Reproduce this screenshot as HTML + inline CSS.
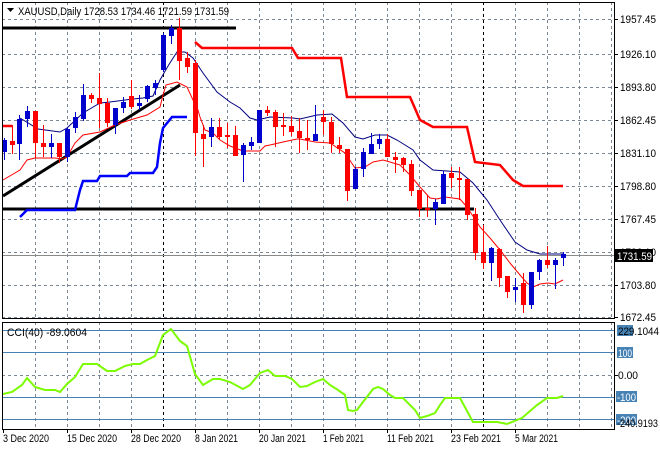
<!DOCTYPE html>
<html><head><meta charset="utf-8"><style>
html,body{margin:0;padding:0;background:#fff;}
svg{display:block;font-family:"Liberation Sans",sans-serif;font-size:11px;}
</style></head><body>
<svg width="660" height="450" viewBox="0 0 660 450" xmlns="http://www.w3.org/2000/svg">
<defs>
<clipPath id="cm"><rect x="2" y="2" width="612" height="317"/></clipPath>
<clipPath id="cc"><rect x="2" y="322" width="612" height="107"/></clipPath>
</defs>
<rect width="660" height="450" fill="#fff"/>
<g stroke="#7b8794" stroke-width="1" stroke-dasharray="3,3" fill="none">
<path d="M2 19.5H614M2 54.5H614M2 87.5H614M2 120.5H614M2 153.5H614M2 186.5H614M2 219.5H614M2 252.5H614M2 285.5H614M2 317.5H614"/>
<path d="M35.5 2V319M67.5 2V319M99.5 2V319M131.5 2V319M195.5 2V319M227.5 2V319M259.5 2V319M291.5 2V319M323.5 2V319M355.5 2V319M387.5 2V319M419.5 2V319M451.5 2V319M515.5 2V319M547.5 2V319M579.5 2V319M611.5 2V319"/>
<path d="M35.5 322V429M67.5 322V429M99.5 322V429M131.5 322V429M195.5 322V429M227.5 322V429M259.5 322V429M291.5 322V429M323.5 322V429M355.5 322V429M387.5 322V429M419.5 322V429M451.5 322V429M515.5 322V429M547.5 322V429M579.5 322V429M611.5 322V429M2 375.5H614"/>
</g>
<g stroke="#000" stroke-dasharray="3,3"><path d="M163.5 2V319M483.5 2V319M163.5 322V429M483.5 322V429"/></g>
<path d="M2 255.5H614" stroke="#8a8a8a" stroke-width="1"/>
<g clip-path="url(#cm)">
<path d="M3 28H236" stroke="#000" stroke-width="3"/>
<path d="M3 209H474" stroke="#000" stroke-width="3"/>
<path d="M3 196L180 85" stroke="#000" stroke-width="3"/>
<path d="M3 126H12M195 42L202 48H292L298 58H341L347 97H410L420 120L433 127H467L475 162L500 165L513 180L523 186H563" stroke="#ff0000" stroke-width="2.5" fill="none"/>
<path d="M20 217L27 210H75L80 190L83 181H97L100 176H127L130 173H153L157 167L160 143L163 128L172 117H187" stroke="#0000ff" stroke-width="2.5" fill="none"/>
<path d="M20 118L38 129L60 132L67 128L83 113L100 103L110 102L133 99L143 98L153 96L160 80L168 66L177 52L185 52L193 58L203 73L217 92L230 102L240 108L250 118L257 120L270 117L293 118L300 119L317 115L332 114L343 123L355 137L363 139L375 135L387 135L397 140L405 145L413 150L420 160L433 170L447 171L460 172L473 183L487 200L500 220L515 242L527 250L540 254L563 254" stroke="#000080" stroke-width="1" fill="none"/>
<path d="M3 180L20 170L27 160L35 158L55 158L62 159L67 157L75 143L83 135L100 132L115 125L130 120L147 115L160 107L163 95L166 85L177 82L187 87L193 100L197 107L200 117L205 130L213 133L220 140L230 146L243 151L260 151L265 146L270 145L283 142L297 139L300 139L315 142L330 143L345 153L355 168L365 167L373 162L383 160L390 162L400 165L410 175L420 187L430 198L437 199L445 197L460 199L467 207L480 227L490 238L500 250L510 263L520 275L527 283L533 287L540 284L548 283L555 284L563 280" stroke="#ff0000" stroke-width="1" fill="none"/>
<path stroke="#ff0000" stroke-width="1" d="M12.5 125V154M35.5 111V158M43.5 125V157M59.5 143V163M91.5 93V103M99.5 73V128M107.5 98V127M131.5 80V109M179.5 18V80M187.5 52V73M195.5 60V156M203.5 125V167M219.5 118V140M227.5 123V148M235.5 126V156M267.5 106V116M275.5 110V147M283.5 113V136M291.5 116V136M299.5 118V153M307.5 120V150M323.5 110V135M331.5 117V153M339.5 137V153M347.5 149V201M387.5 134V157M395.5 152V173M403.5 157V172M411.5 160V196M419.5 190V217M427.5 195V217M451.5 167V188M459.5 167V200M467.5 179V220M475.5 208V260M483.5 225V269M499.5 248V287M507.5 276V298M523.5 273V313M547.5 246V268"/>
<path fill="#ff0000" d="M10 141h5v4h-5zM33 111h5v32h-5zM41 143h5v4h-5zM57 143h5v14h-5zM89 95h5v4h-5zM97 98h5v6h-5zM105 103h5v20h-5zM129 96h5v11h-5zM177 28h5v33h-5zM185 58h5v9h-5zM193 63h5v70h-5zM201 134h5v5h-5zM217 127h5v10h-5zM225 135h5v2h-5zM233 135h5v21h-5zM265 110h5v3h-5zM273 112h5v15h-5zM281 125h5v2h-5zM289 126h5v6h-5zM297 131h5v7h-5zM305 138h5v2h-5zM321 117h5v5h-5zM329 122h5v22h-5zM337 145h5v4h-5zM345 149h5v42h-5zM385 139h5v18h-5zM393 157h5v3h-5zM401 158h5v7h-5zM409 164h5v27h-5zM417 190h5v19h-5zM425 208h5v2h-5zM449 173h5v5h-5zM457 178h5v2h-5zM465 179h5v36h-5zM473 214h5v39h-5zM481 252h5v11h-5zM497 249h5v29h-5zM505 276h5v16h-5zM521 283h5v22h-5zM545 260h5v5h-5z"/>
<path stroke="#0000cc" stroke-width="1" d="M4.5 138V160M19.5 115V160M27.5 106V127M51.5 134V158M67.5 128V162M75.5 112V133M83.5 84V121M115.5 108V134M123.5 97V113M139.5 95V110M147.5 85V102M155.5 80V95M163.5 33V72M171.5 25V44M211.5 118V147M243.5 143V182M251.5 137V150M259.5 110V143M315.5 105V141M355.5 167V189M363.5 148V177M371.5 133V154M379.5 134V149M435.5 199V225M443.5 171V204M491.5 247V281M515.5 278V302M531.5 272V309M539.5 259V280M555.5 258V289M563.5 252V266"/>
<path fill="#0000cc" d="M2 140h5v12h-5zM17 119h5v25h-5zM25 111h5v8h-5zM49 143h5v4h-5zM65 129h5v28h-5zM73 117h5v11h-5zM81 95h5v24h-5zM113 108h5v17h-5zM121 102h5v6h-5zM137 103h5v3h-5zM145 86h5v13h-5zM153 83h5v5h-5zM161 35h5v35h-5zM169 28h5v8h-5zM209 127h5v10h-5zM241 145h5v10h-5zM249 142h5v4h-5zM257 110h5v33h-5zM313 134h5v7h-5zM353 169h5v20h-5zM361 152h5v17h-5zM369 144h5v10h-5zM377 139h5v5h-5zM433 202h5v7h-5zM441 174h5v30h-5zM489 248h5v15h-5zM513 287h5v3h-5zM529 272h5v33h-5zM537 260h5v12h-5zM553 260h5v5h-5zM561 254h5v4h-5z"/>
</g>
<g stroke="#4682b4" stroke-width="1"><path d="M2 330.5H614M2 352.5H614M2 397.5H614M2 419.5H614"/></g>
<g clip-path="url(#cc)">
<path d="M3 394L12 392L22 385L27 378L35 387L45 390L55 390L60 392L67 384L75 377L83 364L97 364L107 371L115 371L125 366L133 364L140 364L147 360L155 356L163 335L171 329L180 341L187 346L195 374L203 385L213 379L220 379L230 382L243 389L250 385L260 373L268 370L275 376L285 376L292 379L300 387L307 386L315 382L323 379L330 385L338 390L345 395L348 410L353 411L357 410L363 402L370 393L373 389L378 387L383 389L390 395L395 398L403 398L410 405L415 410L420 418L427 416L435 413L440 405L445 398L460 398L473 422L497 422L507 424L522 418L537 405L547 398L557 398L563 396" stroke="#7cfc00" stroke-width="2" fill="none"/>
</g>
<rect x="2.5" y="2.5" width="612" height="316" fill="none" stroke="#000"/>
<rect x="2.5" y="322.5" width="612" height="107" fill="none" stroke="#000"/>
<path d="M7 8h7l-3.5 4z" fill="#000"/>
<text x="18" y="15" fill="#000" textLength="211" lengthAdjust="spacingAndGlyphs">XAUUSD,Daily  1728.53 1734.46 1721.59 1731.59</text>
<text x="7" y="336" fill="#000" textLength="80" lengthAdjust="spacingAndGlyphs">CCI(40) -89.0604</text>
<g stroke="#000"><path d="M614 19.5h4M614 54.5h4M614 87.5h4M614 120.5h4M614 153.5h4M614 186.5h4M614 219.5h4M614 252.5h4M614 285.5h4M614 317.5h4M614 375.5h4"/></g>
<g fill="#000">
<text x="620" y="23" textLength="36" lengthAdjust="spacingAndGlyphs">1957.45</text>
<text x="620" y="58" textLength="36" lengthAdjust="spacingAndGlyphs">1926.10</text>
<text x="620" y="91" textLength="36" lengthAdjust="spacingAndGlyphs">1893.80</text>
<text x="620" y="124" textLength="36" lengthAdjust="spacingAndGlyphs">1862.45</text>
<text x="620" y="157" textLength="36" lengthAdjust="spacingAndGlyphs">1831.10</text>
<text x="620" y="190" textLength="36" lengthAdjust="spacingAndGlyphs">1798.80</text>
<text x="620" y="223" textLength="36" lengthAdjust="spacingAndGlyphs">1767.45</text>
<text x="620" y="256" textLength="36" lengthAdjust="spacingAndGlyphs">1736.10</text>
<text x="620" y="289" textLength="36" lengthAdjust="spacingAndGlyphs">1703.80</text>
<text x="620" y="321" textLength="36" lengthAdjust="spacingAndGlyphs">1672.45</text>
</g>
<rect x="615" y="249" width="38" height="13" fill="#000"/>
<text x="617" y="260" fill="#fff" textLength="35" lengthAdjust="spacingAndGlyphs">1731.59</text>
<rect x="617" y="325" width="16" height="11" fill="#4682b4"/>
<text x="618" y="335" fill="#000" textLength="41" lengthAdjust="spacingAndGlyphs">229.1044</text>
<rect x="617" y="347" width="16" height="11" fill="#4682b4"/>
<text x="618" y="357" fill="#fff" textLength="14" lengthAdjust="spacingAndGlyphs">100</text>
<text x="618" y="379" fill="#000" textLength="20" lengthAdjust="spacingAndGlyphs">0.00</text>
<rect x="616" y="391" width="21" height="11" fill="#4682b4"/>
<text x="617" y="401" fill="#fff" textLength="19" lengthAdjust="spacingAndGlyphs">-100</text>
<rect x="616" y="414" width="21" height="11" fill="#4682b4"/>
<text x="617" y="424" fill="#fff" textLength="19" lengthAdjust="spacingAndGlyphs">-200</text>
<text x="617" y="427" fill="#000" textLength="41" lengthAdjust="spacingAndGlyphs">-240.9193</text>
<g stroke="#000"><path d="M3.5 429v4M67.5 429v4M131.5 429v4M195.5 429v4M259.5 429v4M323.5 429v4M387.5 429v4M451.5 429v4M515.5 429v4"/></g>
<g fill="#000">
<text x="3" y="442" textLength="46" lengthAdjust="spacingAndGlyphs">3 Dec 2020</text>
<text x="67" y="442" textLength="50" lengthAdjust="spacingAndGlyphs">15 Dec 2020</text>
<text x="131" y="442" textLength="50" lengthAdjust="spacingAndGlyphs">28 Dec 2020</text>
<text x="195" y="442" textLength="43" lengthAdjust="spacingAndGlyphs">8 Jan 2021</text>
<text x="259" y="442" textLength="47" lengthAdjust="spacingAndGlyphs">20 Jan 2021</text>
<text x="323" y="442" textLength="41" lengthAdjust="spacingAndGlyphs">1 Feb 2021</text>
<text x="387" y="442" textLength="47" lengthAdjust="spacingAndGlyphs">11 Feb 2021</text>
<text x="451" y="442" textLength="50" lengthAdjust="spacingAndGlyphs">23 Feb 2021</text>
<text x="515" y="442" textLength="43" lengthAdjust="spacingAndGlyphs">5 Mar 2021</text>
</g>
</svg>
</body></html>
